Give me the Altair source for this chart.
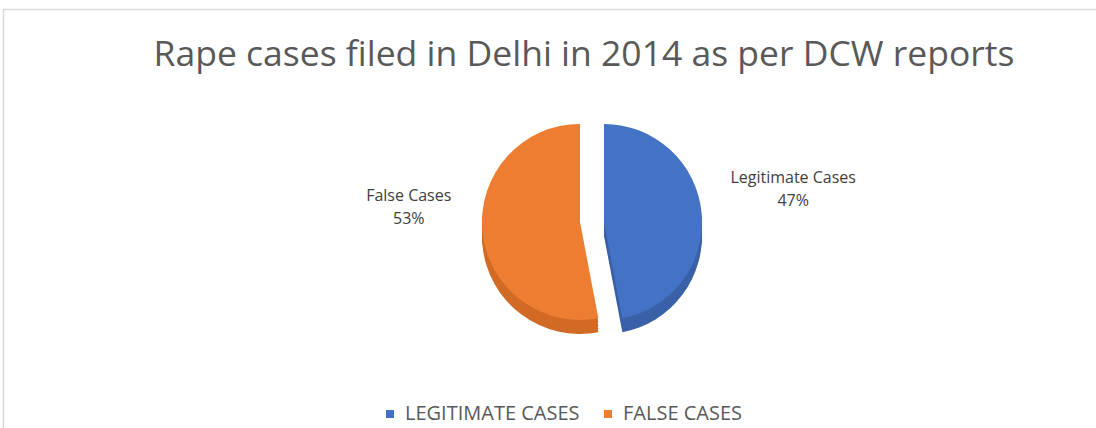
import altair as alt
import pandas as pd

# ---- data ----
categories = ["Legitimate Cases", "False Cases"]
legend_names = ["LEGITIMATE CASES", "FALSE CASES"]
shares = [47, 53]
order = [0, 1]

title_text = "Rape cases filed in Delhi in 2014 as per DCW reports"

# ---- styles ----
colors_top = ["#4472C4", "#ED7D31"]
colors_side = ["#3A61A8", "#D16A24"]
W, H = 1096, 428
CX, CY = 592, 222
R = 98
explode = [12, -12]
depth_steps = [4, 8, 11, 14]
label_style = [dict(radius=190, dy=-37), dict(radius=172, dy=-53)]
line_gap = 22.5

df = pd.DataFrame({"cat": categories, "legend": legend_names,
                   "share": shares, "order": order})
one = pd.DataFrame({"a": [0]})

theta_scale = alt.Scale(domain=[0, 100], range=[0, 6.283185307179586])

base = alt.Chart(df).transform_window(
    end="sum(share)", sort=[alt.SortField("order")]
).transform_calculate(
    start="datum.end - datum.share",
    mid="datum.end - datum.share / 2",
    pct="datum.share + '%'",
)

layers = []

# frame lines of the chart box (top and left, as in the cropped reference)
layers.append(alt.Chart(one).mark_rule(color="#d9d9d9", strokeWidth=1.5).encode(
    x=alt.value(3), x2=alt.value(W), y=alt.value(9.5)))
layers.append(alt.Chart(one).mark_rule(color="#d9d9d9", strokeWidth=1.5).encode(
    x=alt.value(3.5), y=alt.value(9), y2=alt.value(H)))

# title
layers.append(alt.Chart(one).mark_text(
    text=title_text, font="Open Sans", fontSize=35.5, color="#595959",
    align="center", baseline="alphabetic").encode(
    x=alt.value(584), y=alt.value(66)))

# data labels (under the slices): category name and percentage
for i, cat in enumerate(categories):
    for field, extra in (("cat", 0), ("pct", line_gap)):
        layers.append(base.transform_filter(alt.datum.cat == cat).mark_text(
            font="Open Sans", fontSize=16, color="#404040",
            align="center", baseline="alphabetic",
            radius=label_style[i]["radius"],
            dy=label_style[i]["dy"] + extra + 16).encode(
            theta=alt.Theta("mid:Q", scale=theta_scale),
            text=f"{field}:N",
            x=alt.value(CX + explode[i]), y=alt.value(CY)))

# side walls (pseudo depth)
for i, cat in enumerate(categories):
    for d in depth_steps:
        layers.append(base.transform_filter(alt.datum.cat == cat).mark_arc(
            radius=R, color=colors_side[i]).encode(
            theta=alt.Theta("start:Q", scale=theta_scale),
            theta2="end:Q",
            x=alt.value(CX + explode[i]), y=alt.value(CY + d)))

# top faces
for i, cat in enumerate(categories):
    layers.append(base.transform_filter(alt.datum.cat == cat).mark_arc(
        radius=R).encode(
        theta=alt.Theta("start:Q", scale=theta_scale),
        theta2="end:Q",
        color=alt.Color("legend:N",
                        scale=alt.Scale(domain=legend_names, range=colors_top),
                        legend=alt.Legend(
                            title=None, orient="none", direction="horizontal",
                            legendX=380, legendY=404, symbolType="square",
                            symbolSize=64, symbolStrokeWidth=0,
                            labelFont="Open Sans", labelFontSize=20,
                            labelColor="#595959", labelOffset=5,
                            columnPadding=18, labelLimit=400)),
        x=alt.value(CX + explode[i]), y=alt.value(CY)))

chart = alt.layer(*layers).properties(
    width=W, height=H, padding=0,
    autosize=alt.AutoSizeParams(type="none"),
    background="white",
).configure_view(stroke=None)

chart.save("out.html", embed_options={"renderer": "svg", "actions": False})
